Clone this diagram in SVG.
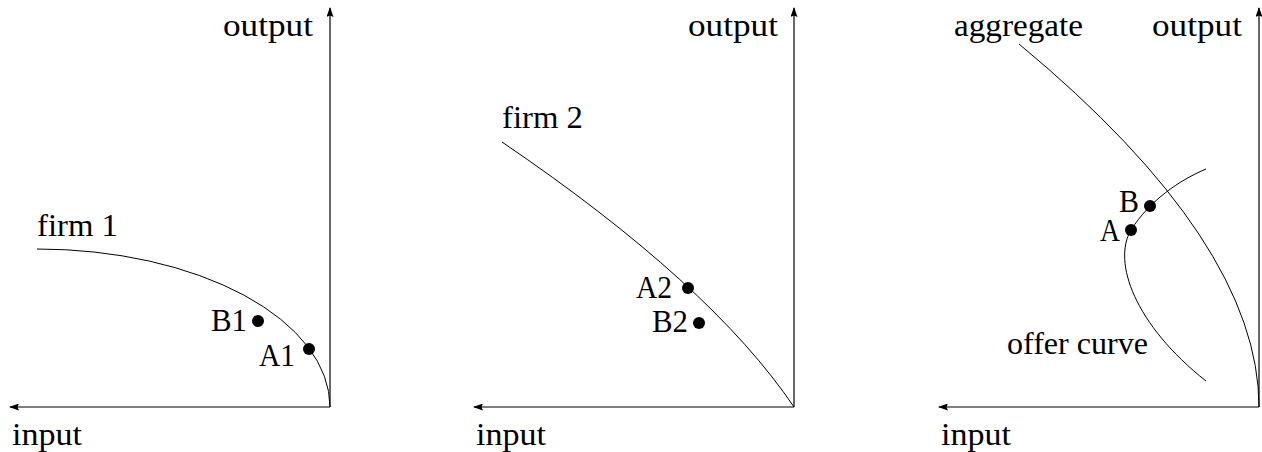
<svg xmlns="http://www.w3.org/2000/svg" width="1262" height="452" viewBox="0 0 1262 452">
<style>
text{font-family:"Liberation Serif","Times New Roman",serif;font-size:31px;fill:#000}
.ax{stroke:#000;stroke-width:1.2;fill:none}
.cv{stroke:#000;stroke-width:1;fill:none}
.dot{fill:#000}
</style>
<defs>
<marker id="ah" viewBox="0 0 10 7" refX="9" refY="3.5" markerWidth="10" markerHeight="7" markerUnits="userSpaceOnUse" orient="auto">
<path d="M0,0 L10,3.5 L0,7 L1.5,3.5 Z" fill="#000"/>
</marker>
</defs>
<g id="connectors">
<path class="ax" d="M330,407 L330,8" marker-end="url(#ah)"/>
<path class="ax" d="M330,407 L10,407" marker-end="url(#ah)"/>
<path class="ax" d="M794,407 L794,8" marker-end="url(#ah)"/>
<path class="ax" d="M794,407 L474,407" marker-end="url(#ah)"/>
<path class="ax" d="M1259,407 L1259,8" marker-end="url(#ah)"/>
<path class="ax" d="M1259,407 L939,407" marker-end="url(#ah)"/>
<path id="firm1-curve" class="cv" d="M37,249 A293,158 0 0 1 330,407"/>
<path id="firm2-curve" class="cv" d="M502,142 Q711,284 794,407"/>
<path id="aggregate-curve" class="cv" d="M1019,44 Q1259,243 1259,407"/>
<path id="offer-curve" class="cv" d="M1206,169 C1180,180 1150,200 1131,230 C1112,262 1135,325 1206,381"/>
</g>
<g id="panel1">
<text x="223" y="36" textLength="90" lengthAdjust="spacingAndGlyphs">output</text>
<text x="12" y="445" textLength="70" lengthAdjust="spacingAndGlyphs">input</text>
<text x="37" y="236" textLength="81" lengthAdjust="spacingAndGlyphs">firm 1</text>
</g>
<g id="B1"><circle class="dot" cx="258" cy="321" r="6"/><text x="211" y="331" textLength="36" lengthAdjust="spacingAndGlyphs">B1</text></g>
<g id="A1"><circle class="dot" cx="309" cy="349" r="6"/><text x="259" y="366" textLength="36" lengthAdjust="spacingAndGlyphs">A1</text></g>
<g id="panel2">
<text x="688" y="36" textLength="90" lengthAdjust="spacingAndGlyphs">output</text>
<text x="476" y="445" textLength="70" lengthAdjust="spacingAndGlyphs">input</text>
<text x="502" y="128" textLength="81" lengthAdjust="spacingAndGlyphs">firm 2</text>
</g>
<g id="A2"><circle class="dot" cx="688" cy="288" r="6"/><text x="636" y="298" textLength="36" lengthAdjust="spacingAndGlyphs">A2</text></g>
<g id="B2"><circle class="dot" cx="699" cy="323" r="6"/><text x="652" y="332" textLength="36" lengthAdjust="spacingAndGlyphs">B2</text></g>
<g id="panel3">
<text x="1152" y="36" textLength="90" lengthAdjust="spacingAndGlyphs">output</text>
<text x="941" y="445" textLength="70" lengthAdjust="spacingAndGlyphs">input</text>
<text x="954" y="36" textLength="129" lengthAdjust="spacingAndGlyphs">aggregate</text>
<text x="1007" y="354" textLength="141" lengthAdjust="spacingAndGlyphs">offer curve</text>
</g>
<g id="B"><circle class="dot" cx="1150" cy="206" r="6"/><text x="1119" y="212" textLength="20" lengthAdjust="spacingAndGlyphs">B</text></g>
<g id="A"><circle class="dot" cx="1131" cy="230" r="6"/><text x="1100" y="241" textLength="20" lengthAdjust="spacingAndGlyphs">A</text></g>
</svg>
